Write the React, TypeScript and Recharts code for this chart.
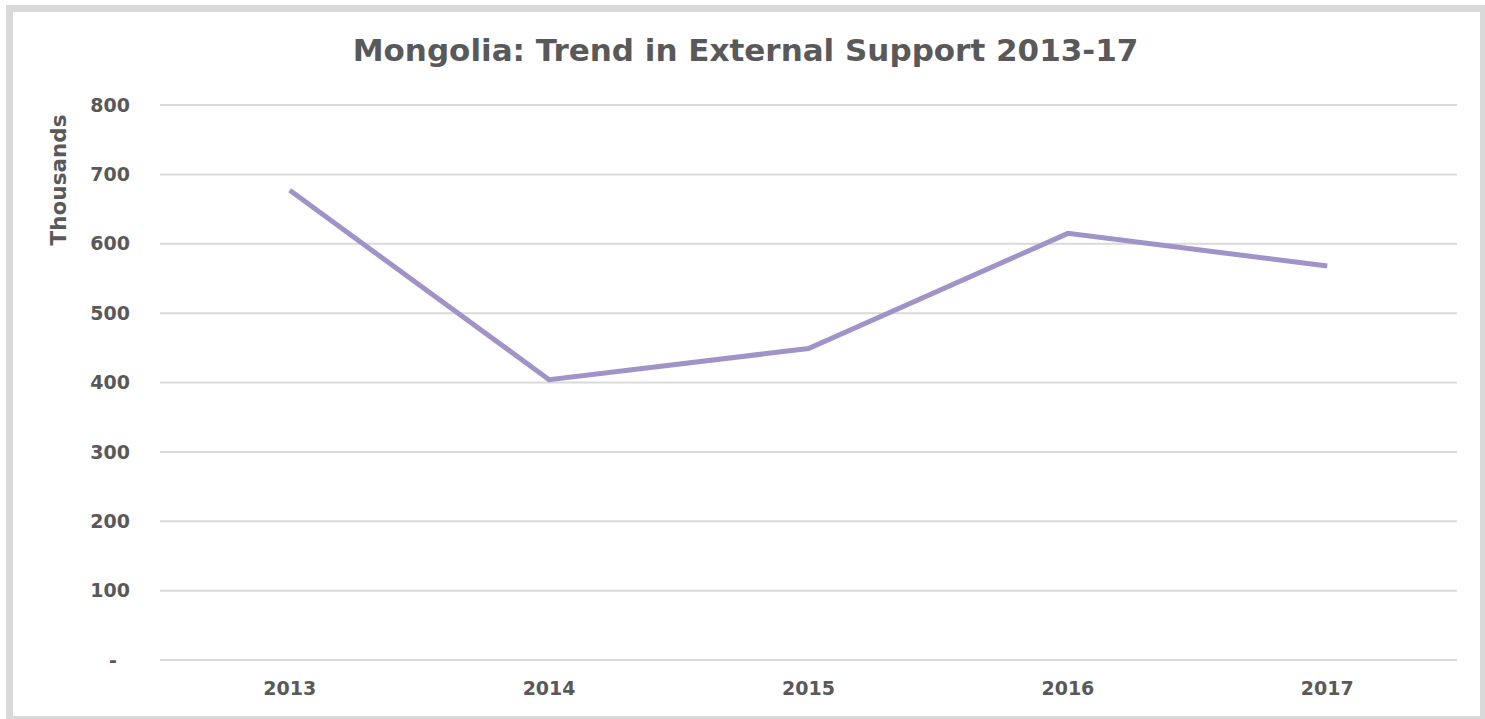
import { LineChart, Line, XAxis, YAxis, CartesianGrid } from "recharts";

// Valores (milhares)
const years = ["2013", "2014", "2015", "2016", "2017"];
const support = [677, 404, 449, 615, 568];
const yTicks = [0, 100, 200, 300, 400, 500, 600, 700, 800];

const data = years.map((year, i) => ({ year, support: support[i] }));

const FONT = "'DejaVu Sans', Verdana, sans-serif";
const TEXT = "#595959";

export default function App() {
  return (
    <div style={{ position: "fixed", left: 0, top: 0, width: 1485, height: 719, background: "#fff", fontFamily: FONT, overflow: "hidden" }}>
      <div
        style={{
          position: "absolute",
          left: 6,
          top: 5,
          width: 1485 - 6,
          height: 719 - 5,
          boxSizing: "border-box",
          borderStyle: "solid",
          borderColor: "#d9d9d9",
          borderWidth: "7px 5px 3px 7px",
        }}
      />
      <div
        style={{
          position: "absolute",
          left: 6,
          width: 1479,
          top: 30,
          textAlign: "center",
          fontSize: 31,
          fontWeight: 700,
          color: TEXT,
          lineHeight: "40px",
        }}
      >
        Mongolia: Trend in External Support 2013-17
      </div>
      <LineChart
        width={1485}
        height={719}
        data={data}
        margin={{ top: 105, right: 28, bottom: 0, left: 0 }}
        style={{ position: "absolute", left: 0, top: 0 }}
      >
        <CartesianGrid vertical={false} stroke="#d9d9d9" strokeWidth={2} />
        <XAxis
          dataKey="year"
          axisLine={false}
          tickLine={false}
          tickSize={0}
          tickMargin={22}
          height={59}
          padding={{ left: 129.7, right: 129.7 }}
          tick={{ fill: TEXT, fontSize: 19, fontWeight: 700, fontFamily: FONT }}
        />
        <YAxis
          domain={[0, 800]}
          ticks={yTicks}
          width={160}
          axisLine={false}
          tickLine={false}
          tickSize={0}
          tickMargin={30}
          interval={0}
          tickFormatter={(v: number) => (v === 0 ? "-\u00A0\u00A0" : String(v))}
          tick={{ fill: TEXT, fontSize: 19, fontWeight: 700, fontFamily: FONT }}
          label={{
            content: () => (
              <text
                x={58}
                y={180}
                transform="rotate(-90 58 180)"
                textAnchor="middle"
                dominantBaseline="central"
                fill={TEXT}
                fontSize={21.5}
                fontWeight={700}
                fontFamily={FONT}
              >
                Thousands
              </text>
            ),
          }}
        />
        <Line
          type="linear"
          dataKey="support"
          stroke="#a193c8"
          strokeWidth={5}
          dot={false}
          activeDot={false}
          isAnimationActive={false}
        />
      </LineChart>
    </div>
  );
}
